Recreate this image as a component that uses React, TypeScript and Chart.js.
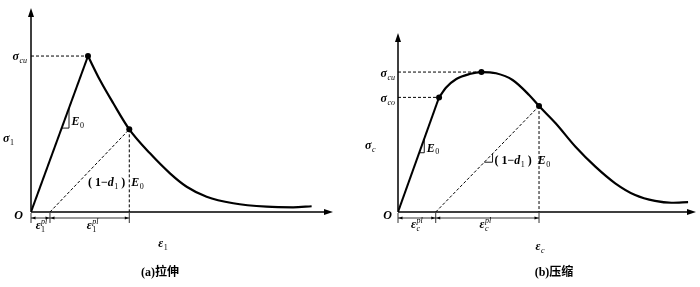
import React, { useEffect, useRef } from "react";
import { Chart, registerables } from "chart.js";
Chart.register(...registerables);

// ---------- (a) tension ----------
const tLoadX = [0, 1.0];
const tLoadY = [0, 1.0];
const tSoftX = [1.0, 1.21, 1.444, 1.725, 2.088, 2.439, 2.732, 3.082, 3.549, 4.135, 4.6, 4.925];
const tSoftY = [1.0, 0.846, 0.697, 0.53, 0.376, 0.248, 0.162, 0.098, 0.056, 0.034, 0.03, 0.037];
const tPeak = [1.0, 1.0];
const tUnload = [1.725, 0.53];
const tResidual = 0.333;
const tAxisMax = [5.3, 1.308];

// ---------- (b) compression ----------
const cLoadX = [0, 0.492];
const cLoadY = [0, 0.819];
const cCurveX = [0.492, 0.58, 0.699, 0.857, 1.0, 1.175, 1.373, 1.571, 1.69, 1.889, 2.127, 2.365, 2.603, 2.842, 3.08, 3.277, 3.476];
const cCurveY = [0.819, 0.891, 0.95, 0.986, 1.0, 0.991, 0.943, 0.836, 0.757, 0.634, 0.466, 0.324, 0.205, 0.121, 0.079, 0.066, 0.071];
const cYield = [0.492, 0.819];
const cPeak = [1.0, 1.0];
const cUnload = [1.69, 0.757];
const cResidual = 0.452;
const cAxisMax = [3.571, 1.279];

const SERIF = '"Liberation Serif", "DejaVu Serif", serif';
const CJK = '"Liberation Serif", "Noto Sans CJK SC", serif';
const SUB = 0.66;

const toXY = (xs: number[], ys: number[]) => xs.map((x, i) => ({ x, y: ys[i] }));

type Part = { t: string; it?: boolean; sub?: string; sup?: string; size?: number };

function richWidth(ctx: CanvasRenderingContext2D, parts: Part[], size: number) {
  let w = 0;
  for (const p of parts) {
    const s = p.size || size;
    ctx.font = `${p.it ? "italic " : ""}bold ${s}px ${SERIF}`;
    w += ctx.measureText(p.t).width;
    let w2 = 0;
    const ss = Math.round(s * SUB);
    if (p.sub) {
      ctx.font = `${/^[0-9]+$/.test(p.sub) ? "" : "italic "}${ss}px ${SERIF}`;
      w2 = Math.max(w2, ctx.measureText(p.sub).width);
    }
    if (p.sup) {
      ctx.font = `italic ${ss}px ${SERIF}`;
      w2 = Math.max(w2, ctx.measureText(p.sup).width);
    }
    if (w2) w += w2 + 0.5;
  }
  return w;
}

function rich(ctx: CanvasRenderingContext2D, x: number, y: number, parts: Part[], size = 12, align: "left" | "center" | "right" = "left") {
  ctx.save();
  ctx.fillStyle = "#000";
  ctx.textBaseline = "middle";
  ctx.textAlign = "left";
  const total = richWidth(ctx, parts, size);
  let cx = align === "left" ? x : align === "center" ? x - total / 2 : x - total;
  for (const p of parts) {
    const s = p.size || size;
    ctx.font = `${p.it ? "italic " : ""}bold ${s}px ${SERIF}`;
    ctx.fillText(p.t, cx, y);
    cx += ctx.measureText(p.t).width;
    const ss = Math.round(s * SUB);
    let w2 = 0;
    if (p.sub) {
      ctx.font = `${/^[0-9]+$/.test(p.sub) ? "" : "italic "}${ss}px ${SERIF}`;
      ctx.fillText(p.sub, cx + 0.5, y + s * 0.3);
      w2 = Math.max(w2, ctx.measureText(p.sub).width);
    }
    if (p.sup) {
      ctx.font = `italic ${ss}px ${SERIF}`;
      ctx.fillText(p.sup, cx + 0.5, y - s * 0.38);
      w2 = Math.max(w2, ctx.measureText(p.sup).width);
    }
    if (w2) cx += w2 + 0.5;
  }
  ctx.restore();
}

function arrowHead(ctx: CanvasRenderingContext2D, x: number, y: number, dir: "up" | "right" | "left", len: number, hw: number) {
  ctx.beginPath();
  if (dir === "up") {
    ctx.moveTo(x, y);
    ctx.lineTo(x - hw, y + len);
    ctx.lineTo(x + hw, y + len);
  } else if (dir === "right") {
    ctx.moveTo(x, y);
    ctx.lineTo(x - len, y - hw);
    ctx.lineTo(x - len, y + hw);
  } else {
    ctx.moveTo(x, y);
    ctx.lineTo(x + len, y - hw);
    ctx.lineTo(x + len, y + hw);
  }
  ctx.closePath();
  ctx.fill();
}

function drawAxes(ctx: CanvasRenderingContext2D, x0: number, y0: number, right: number, top: number) {
  ctx.save();
  ctx.strokeStyle = "#000";
  ctx.fillStyle = "#000";
  ctx.lineWidth = 1.5;
  ctx.beginPath();
  ctx.moveTo(x0, y0);
  ctx.lineTo(right - 4, y0);
  ctx.moveTo(x0, y0);
  ctx.lineTo(x0, top + 4);
  ctx.stroke();
  arrowHead(ctx, right, y0, "right", 9, 3);
  arrowHead(ctx, x0, top, "up", 9, 3);
  ctx.restore();
}

function dimLine(ctx: CanvasRenderingContext2D, xs: number[], y0: number) {
  ctx.save();
  ctx.strokeStyle = "#000";
  ctx.fillStyle = "#000";
  ctx.lineWidth = 0.8;
  const y = y0 + 6;
  ctx.beginPath();
  ctx.moveTo(xs[0], y);
  ctx.lineTo(xs[xs.length - 1], y);
  for (const x of xs) {
    ctx.moveTo(x, y0 + 1);
    ctx.lineTo(x, y0 + 11);
  }
  ctx.stroke();
  for (let i = 0; i < xs.length - 1; i++) {
    arrowHead(ctx, xs[i] + 0.5, y, "left", 4, 1.6);
    arrowHead(ctx, xs[i + 1] - 0.5, y, "right", 4, 1.6);
  }
  ctx.restore();
}

// right-angle slope marker on a line from P0 to P1 at fractions t1 < t2
function slopeMarker(ctx: CanvasRenderingContext2D, X: (v: number) => number, Y: (v: number) => number, p0: number[], p1: number[], t1: number, t2: number) {
  const ax = X(p0[0] + (p1[0] - p0[0]) * t1);
  const ay = Y(p0[1] + (p1[1] - p0[1]) * t1);
  const cx = X(p0[0] + (p1[0] - p0[0]) * t2);
  const cy = Y(p0[1] + (p1[1] - p0[1]) * t2);
  ctx.save();
  ctx.strokeStyle = "#000";
  ctx.lineWidth = 0.9;
  ctx.beginPath();
  ctx.moveTo(ax, ay);
  ctx.lineTo(cx, ay);
  ctx.lineTo(cx, cy);
  ctx.stroke();
  ctx.restore();
  return { ax, ay, cx, cy };
}

function caption(ctx: CanvasRenderingContext2D, text: string, x: number, y: number) {
  ctx.save();
  ctx.fillStyle = "#000";
  ctx.font = `bold 12px ${CJK}`;
  ctx.textAlign = "center";
  ctx.textBaseline = "middle";
  ctx.fillText(text, x, y);
  ctx.restore();
}

const line = (data: { x: number; y: number }[], width: number, extra: any = {}) => ({
  data,
  showLine: true,
  borderColor: "#000",
  backgroundColor: "#000",
  borderWidth: width,
  pointRadius: 0,
  ...extra,
});

const dashed = (data: { x: number; y: number }[]) => line(data, 1, { borderDash: [3, 2] });

const dots = (pts: number[][]) => ({
  data: pts.map((p) => ({ x: p[0], y: p[1] })),
  showLine: false,
  pointRadius: 3,
  pointBackgroundColor: "#000",
  pointBorderColor: "#000",
  pointBorderWidth: 0,
});

function makeConfig(datasets: any[], max: number[], padding: any, plugin: any) {
  return {
    type: "scatter" as const,
    data: { datasets },
    options: {
      animation: false as const,
      responsive: false,
      events: [] as any[],
      layout: { padding },
      plugins: { legend: { display: false }, tooltip: { enabled: false } },
      scales: {
        x: { type: "linear" as const, min: 0, max: max[0], display: false },
        y: { type: "linear" as const, min: 0, max: max[1], display: false },
      },
    },
    plugins: [plugin],
  };
}

const leftPlugin = {
  id: "leftDecor",
  afterDatasetsDraw(chart: any) {
    const { ctx, chartArea } = chart;
    const X = (v: number) => chart.scales.x.getPixelForValue(v);
    const Y = (v: number) => chart.scales.y.getPixelForValue(v);
    const x0 = X(0), y0 = Y(0);
    drawAxes(ctx, x0, y0, chartArea.right, chartArea.top);
    const m = slopeMarker(ctx, X, Y, [0, 0], tPeak, 0.538, 0.667);
    rich(ctx, m.cx + 2.5, m.ay - 6, [{ t: "E", it: true, sub: "0" }], 12);
    rich(ctx, x0 - 4, Y(tPeak[1]) + 1, [{ t: "σ", it: true, sub: "cu" }], 12, "right");
    rich(ctx, 3, 139, [{ t: "σ", it: true, sub: "1" }], 12);
    rich(ctx, x0 - 8, y0 + 4, [{ t: "O", it: true }], 12, "right");
    rich(ctx, 88, 183, [
      { t: "( 1−" },
      { t: "d", it: true, sub: "1" },
      { t: " )  " },
      { t: "E", it: true, sub: "0" },
    ], 12);
    const xr = X(tResidual), xu = X(tUnload[0]);
    dimLine(ctx, [x0, xr, xu], y0);
    rich(ctx, (x0 + xr) / 2 + 1, y0 + 14, [{ t: "ε", it: true, sub: "1", sup: "pl" }], 12, "center");
    rich(ctx, (xr + xu) / 2 + 3, y0 + 14, [{ t: "ε", it: true, sub: "1", sup: "pl" }], 12, "center");
    rich(ctx, 163, 244, [{ t: "ε", it: true, sub: "1" }], 12, "center");
    caption(ctx, "(a)拉伸", 160, 273);
  },
};

const rightPlugin = {
  id: "rightDecor",
  afterDatasetsDraw(chart: any) {
    const { ctx, chartArea } = chart;
    const X = (v: number) => chart.scales.x.getPixelForValue(v);
    const Y = (v: number) => chart.scales.y.getPixelForValue(v);
    const x0 = X(0), y0 = Y(0);
    drawAxes(ctx, x0, y0, chartArea.right, chartArea.top);
    const m = slopeMarker(ctx, X, Y, [0, 0], cYield, 0.517, 0.64);
    rich(ctx, m.cx + 2.5, m.ay - 4, [{ t: "E", it: true, sub: "0" }], 12);
    const m2 = slopeMarker(ctx, X, Y, [cResidual, 0], cUnload, 0.47, 0.55);
    rich(ctx, m2.cx + 2, m2.ay - 1, [
      { t: "( 1−" },
      { t: "d", it: true, sub: "1" },
      { t: " )  " },
      { t: "E", it: true, sub: "0" },
    ], 12);
    rich(ctx, x0 - 3, Y(cPeak[1]) + 2, [{ t: "σ", it: true, sub: "cu" }], 12, "right");
    rich(ctx, x0 - 3, Y(cYield[1]) + 2, [{ t: "σ", it: true, sub: "co" }], 12, "right");
    rich(ctx, 15, 146, [{ t: "σ", it: true, sub: "c" }], 12);
    rich(ctx, x0 - 6, y0 + 4, [{ t: "O", it: true }], 12, "right");
    const xr = X(cResidual), xu = X(cUnload[0]);
    dimLine(ctx, [x0, xr, xu], y0);
    rich(ctx, (x0 + xr) / 2, y0 + 13, [{ t: "ε", it: true, sub: "c", sup: "pl" }], 12, "center");
    rich(ctx, (xr + xu) / 2 - 2, y0 + 13, [{ t: "ε", it: true, sub: "c", sup: "pl" }], 12, "center");
    rich(ctx, 190, 247, [{ t: "ε", it: true, sub: "c" }], 12, "center");
    caption(ctx, "(b)压缩", 204, 273);
  },
};

function Panel({ config, left }: { config: any; left: number }) {
  const ref = useRef<HTMLCanvasElement>(null);
  useEffect(() => {
    if (!ref.current) return;
    const chart = new Chart(ref.current, config);
    return () => chart.destroy();
  }, [config]);
  return (
    <canvas
      ref={ref}
      width={350}
      height={287}
      style={{ position: "absolute", left, top: 0, width: 350, height: 287, display: "block" }}
    />
  );
}

const leftConfig = makeConfig(
  [
    dots([tPeak, tUnload]),
    line(toXY(tLoadX, tLoadY), 2),
    line(toXY(tSoftX, tSoftY), 2.2, { cubicInterpolationMode: "monotone" }),
    dashed([{ x: 0, y: tPeak[1] }, { x: tPeak[0], y: tPeak[1] }]),
    dashed([{ x: tUnload[0], y: tUnload[1] }, { x: tUnload[0], y: 0 }]),
    dashed([{ x: tResidual, y: 0 }, { x: tUnload[0], y: tUnload[1] }]),
  ],
  tAxisMax,
  { left: 31, right: 17, top: 8, bottom: 75 },
  leftPlugin
);

const rightConfig = makeConfig(
  [
    dots([cYield, cPeak, cUnload]),
    line(toXY(cLoadX, cLoadY), 2),
    line(toXY(cCurveX, cCurveY), 2.2, { cubicInterpolationMode: "monotone" }),
    dashed([{ x: 0, y: cPeak[1] }, { x: cPeak[0], y: cPeak[1] }]),
    dashed([{ x: 0, y: cYield[1] }, { x: cYield[0], y: cYield[1] }]),
    dashed([{ x: cUnload[0], y: cUnload[1] }, { x: cUnload[0], y: 0 }]),
    dashed([{ x: cResidual, y: 0 }, { x: cUnload[0], y: cUnload[1] }]),
  ],
  cAxisMax,
  { left: 48, right: 2, top: 33, bottom: 75 },
  rightPlugin
);

export default function App() {
  return (
    <div style={{ position: "fixed", left: 0, top: 0, width: 700, height: 287, background: "#fff", overflow: "hidden" }}>
      <Panel config={leftConfig} left={0} />
      <Panel config={rightConfig} left={350} />
    </div>
  );
}
